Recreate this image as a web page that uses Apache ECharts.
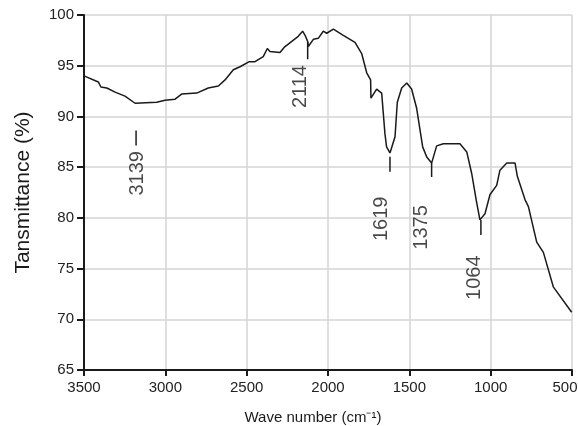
<!DOCTYPE html>
<html>
<head>
<meta charset="utf-8">
<script src="https://cdn.jsdelivr.net/npm/echarts@6/dist/echarts.min.js"></script>
<style>
  html, body { margin: 0; padding: 0; background: #fff; }
  #main { width: 578px; height: 426px; }
</style>
</head>
<body>
<div id="main"></div>
<script>
// spectrum: wave number (cm-1) and transmittance (%)
const waveNumber = [3500, 3412, 3396, 3360, 3309, 3248, 3186, 3053, 3002, 2940, 2900, 2807, 2736, 2674, 2633, 2582, 2541, 2484, 2449, 2398, 2373, 2357, 2295, 2270, 2254, 2183, 2156, 2141, 2125, 2121, 2090, 2060, 2029, 2008, 1967, 1906, 1834, 1793, 1762, 1738, 1736, 1701, 1670, 1650, 1640, 1619, 1588, 1574, 1547, 1516, 1486, 1455, 1418, 1393, 1363, 1332, 1291, 1189, 1147, 1117, 1086, 1066, 1035, 1004, 963, 943, 901, 850, 836, 789, 768, 717, 676, 615, 502];
const transmittance = [94.0, 93.4, 92.9, 92.8, 92.4, 92.0, 91.3, 91.4, 91.6, 91.7, 92.2, 92.3, 92.8, 93.0, 93.6, 94.6, 94.9, 95.4, 95.4, 95.9, 96.7, 96.4, 96.3, 96.8, 97.0, 97.9, 98.4, 98.0, 97.4, 96.9, 97.6, 97.7, 98.4, 98.2, 98.6, 98.0, 97.3, 96.2, 94.3, 93.6, 91.8, 92.7, 92.3, 88.3, 87.0, 86.4, 88.0, 91.4, 92.8, 93.3, 92.7, 90.8, 87.0, 86.0, 85.4, 87.1, 87.3, 87.3, 86.5, 84.4, 81.5, 79.8, 80.4, 82.3, 83.2, 84.7, 85.4, 85.4, 84.1, 81.8, 81.1, 77.6, 76.6, 73.2, 70.7];

// peak annotations: text, where the text sits, and the short marker segments
const peakText = ['3139 {d|\u2013}', '2114', '1619', '1375', '1064'];
const textX = [3174, 2168, 1670, 1424, 1101];
const textY = [85.4, 92.95, 79.9, 79.05, 74.1];
const markX = [2125, 1619, 1363, 1060];
const markTop = [97.37, 86.03, 85.41, 79.79];
const markBottom = [95.63, 84.55, 84.03, 78.31];

const FONT = '"Liberation Sans", Arial, Helvetica, sans-serif';
const chart = echarts.init(document.getElementById('main'));

const series = [{
  type: 'line',
  data: waveNumber.map((w, i) => [w, transmittance[i]]),
  symbol: 'none',
  lineStyle: { color: '#1a1a1a', width: 1.5 },
  z: 3
}];
markX.forEach((x, i) => {
  series.push({
    type: 'line',
    data: [[x, markTop[i]], [x, markBottom[i]]],
    symbol: 'none',
    lineStyle: { color: '#1a1a1a', width: 1.5 },
    z: 3
  });
});
series.push({
  type: 'scatter',
  data: textX.map((x, i) => [x, textY[i]]),
  symbolSize: 0,
  label: {
    show: true,
    position: 'inside',
    rotate: 90,
    fontFamily: FONT,
    fontSize: 20,
    color: '#1a1a1a',
    textBorderWidth: 0,
    formatter: p => peakText[p.dataIndex],
    rich: {
      d: { fontFamily: FONT, fontSize: 27, color: '#1a1a1a', padding: [0, 0, 3, 0] }
    }
  },
  z: 4
});

chart.setOption({
  animation: false,
  grid: { left: 84, right: 6, top: 15, bottom: 56, outerBoundsMode: 'none' },
  xAxis: {
    type: 'value',
    inverse: true,
    min: 500,
    max: 3500,
    interval: 500,
    name: 'Wave number (cm\u207B\u00B9)',
    nameLocation: 'middle',
    nameGap: 40,
    nameTextStyle: { fontFamily: FONT, fontSize: 15, color: '#1a1a1a', padding: [0, 30, 0, 0] },
    axisLine: { lineStyle: { color: '#1a1a1a', width: 2 } },
    axisTick: { show: true, length: 6, lineStyle: { color: '#1a1a1a', width: 2 } },
    axisLabel: {
      fontFamily: FONT, fontSize: 15, color: '#222', margin: 10,
      formatter: v => v === 500 ? '{e|500}' : String(v),
      rich: { e: { fontFamily: FONT, fontSize: 15, color: '#222', padding: [0, 14, 0, 0] } }
    },
    splitLine: { show: true, lineStyle: { color: '#d4d4d4', width: 1.5 } }
  },
  yAxis: {
    type: 'value',
    min: 65,
    max: 100,
    interval: 5,
    name: 'Tansmittance (%)',
    nameLocation: 'middle',
    nameGap: 50,
    nameTextStyle: { fontFamily: FONT, fontSize: 21, color: '#1a1a1a' },
    axisLine: { show: true, lineStyle: { color: '#1a1a1a', width: 2 } },
    axisTick: { show: true, length: 7, lineStyle: { color: '#1a1a1a', width: 2 } },
    axisLabel: { fontFamily: FONT, fontSize: 15, color: '#222', margin: 10 },
    splitLine: { show: true, lineStyle: { color: '#d4d4d4', width: 1.5 } }
  },
  series: series
});
</script>
</body>
</html>
